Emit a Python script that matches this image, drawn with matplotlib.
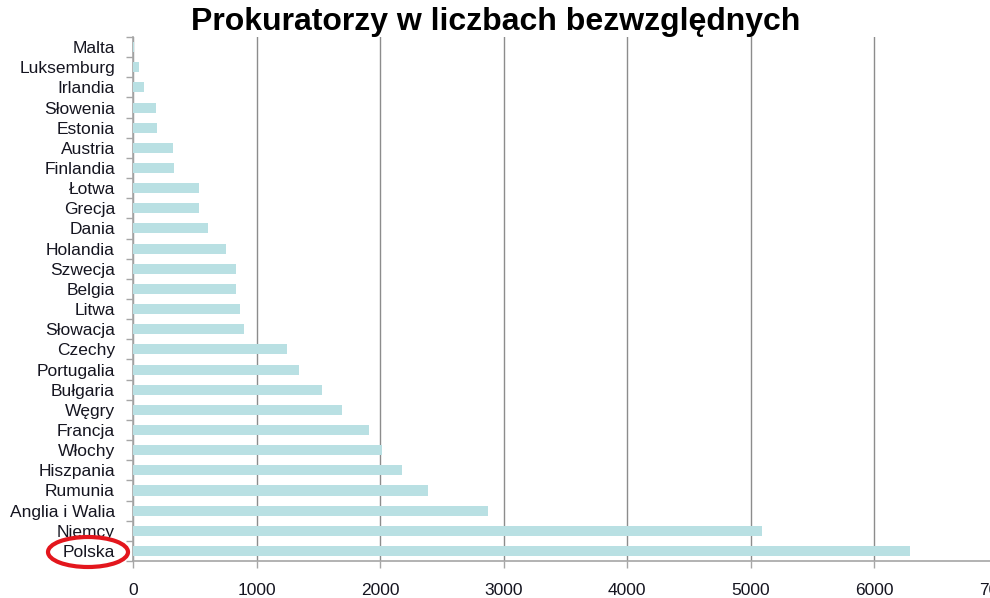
import numpy as np
import matplotlib
matplotlib.use("Agg")
import matplotlib.pyplot as plt
from matplotlib.patches import Ellipse

plt.rcParams["font.family"] = ["Liberation Sans", "DejaVu Sans"]

# dane: liczba prokuratorów
kraje = ["Malta", "Luksemburg", "Irlandia", "Słowenia", "Estonia", "Austria",
         "Finlandia", "Łotwa", "Grecja", "Dania", "Holandia", "Szwecja",
         "Belgia", "Litwa", "Słowacja", "Czechy", "Portugalia", "Bułgaria",
         "Węgry", "Francja", "Włochy", "Hiszpania", "Rumunia",
         "Anglia i Walia", "Niemcy", "Polska"]
liczby = [5, 50, 85, 183, 194, 324, 334, 531, 531, 604, 755, 833,
          833, 866, 898, 1243, 1343, 1527, 1689, 1909, 2016, 2178, 2389,
          2875, 5091, 6285]
x_ticki = [0, 1000, 2000, 3000, 4000, 5000, 6000, 7000]

KOLOR_SLUPKA = "#b9e0e3"
KOLOR_SIATKI = "#a6a6a6"
KOLOR_TEKSTU = "#151520"

fig = plt.figure(figsize=(9.9, 5.98), dpi=100)
W, H = 990, 598
x0, x1, y_gora, y_dol = 133, 998, 37, 561
ax = fig.add_axes([x0 / W, (H - y_dol) / H, (x1 - x0) / W, (y_dol - y_gora) / H])

pozycje = np.arange(len(kraje))
ax.barh(pozycje, liczby, height=0.5, color=KOLOR_SLUPKA, zorder=3)
ax.set_ylim(len(kraje) - 0.5, -0.5)
ax.set_xlim(0, 7000)

ax.set_yticks(pozycje)
ax.set_yticklabels(kraje, fontsize=12.5, color=KOLOR_TEKSTU)
ax.set_yticks(np.arange(len(kraje) + 1) - 0.5, minor=True)
ax.tick_params(axis="y", which="major", length=0, pad=13)
ax.tick_params(axis="y", which="minor", length=5, color=KOLOR_SIATKI, width=1)

ax.set_xticks(x_ticki)
ax.set_xticklabels([str(v) for v in x_ticki], fontsize=12.5, color=KOLOR_TEKSTU)
ax.tick_params(axis="x", length=5, color=KOLOR_SIATKI, width=1, pad=11)

ax.grid(axis="x", color="#8c8c8c", lw=1, zorder=1)
for s in ["top", "right"]:
    ax.spines[s].set_visible(False)
for s in ["left", "bottom"]:
    ax.spines[s].set_color(KOLOR_SIATKI)
    ax.spines[s].set_linewidth(1.2)

fig.text(496 / W, 1 - 22 / H, "Prokuratorzy w liczbach bezwzględnych",
         ha="center", va="center", fontsize=23, fontweight="bold", color="black")

# czerwona elipsa wokół "Polska"
fig.patches.append(Ellipse((88 / W, 1 - 552 / H), 80 / W, 30 / H,
                           transform=fig.transFigure, fill=False,
                           edgecolor="#e3161d", lw=3))

fig.savefig("out.png", dpi=100)
